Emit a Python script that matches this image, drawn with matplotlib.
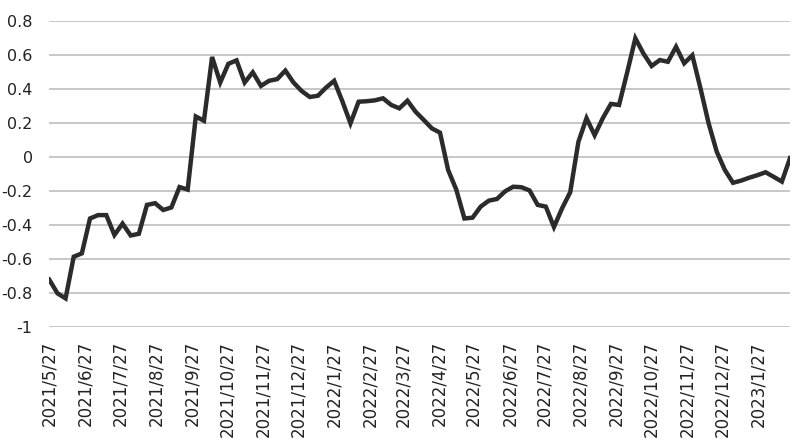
import matplotlib
matplotlib.use('Agg')
import matplotlib.pyplot as plt
import matplotlib.dates as mdates
from matplotlib.ticker import FuncFormatter, MultipleLocator
import pandas as pd

plt.rcParams['axes.unicode_minus'] = False

# weekly observations starting 2021/5/27
start_date = '2021-05-27'
values = [
    -0.72, -0.80, -0.83, -0.585, -0.565, -0.36, -0.34, -0.34, -0.457, -0.39,
    -0.46, -0.45, -0.28, -0.27, -0.31, -0.295, -0.175, -0.19, 0.24, 0.215,
    0.59, 0.44, 0.55, 0.57, 0.44, 0.50, 0.42, 0.45, 0.46, 0.51,
    0.44, 0.39, 0.355, 0.362, 0.41, 0.45, 0.33, 0.20, 0.327, 0.33,
    0.335, 0.347, 0.308, 0.288, 0.333, 0.268, 0.22, 0.17, 0.145, -0.075,
    -0.19, -0.36, -0.355, -0.29, -0.255, -0.245, -0.20, -0.173, -0.176, -0.195,
    -0.28, -0.29, -0.41, -0.30, -0.205, 0.09, 0.23, 0.13, 0.23, 0.314,
    0.308, 0.50, 0.70, 0.61, 0.537, 0.572, 0.562, 0.65, 0.553, 0.60,
    0.406, 0.20, 0.033, -0.075, -0.15, -0.137, -0.12, -0.105, -0.088, -0.115,
    -0.143, -0.005,
]
dates = pd.date_range(start_date, periods=len(values), freq='7D')

y_min, y_max, y_step = -1.0, 0.8, 0.2

fig = plt.figure(figsize=(8.01, 4.48), dpi=100)
ax = fig.add_axes([49.3 / 801, 1 - 327.3 / 448, (790 - 49.3) / 801, (327.3 - 21.3) / 448])

ax.plot(dates, values, color='#2b2b2b', lw=3.2, solid_joinstyle='miter', zorder=3)

ax.set_xlim(dates[0], dates[-1])
ax.set_ylim(y_min, y_max)
ax.yaxis.set_major_locator(MultipleLocator(y_step))
ax.yaxis.set_major_formatter(FuncFormatter(lambda v, _: '0' if abs(v) < 1e-9 else f'{v:g}'))

ax.xaxis.set_major_locator(mdates.MonthLocator(bymonthday=27))
ax.xaxis.set_major_formatter(FuncFormatter(
    lambda v, _: (lambda d: f'{d.year}/{d.month}/{d.day}')(mdates.num2date(v))))

ax.grid(axis='y', color='#c3c3c3', lw=1.3, zorder=1)
ax.set_axisbelow(True)
for s in ax.spines.values():
    s.set_visible(False)

ax.tick_params(axis='y', length=0, pad=12, labelsize=11.5, labelcolor='#222222')
ax.tick_params(axis='x', length=0, pad=10, labelsize=12, labelcolor='#222222', labelrotation=90)

fig.savefig('out.png', dpi=100)
